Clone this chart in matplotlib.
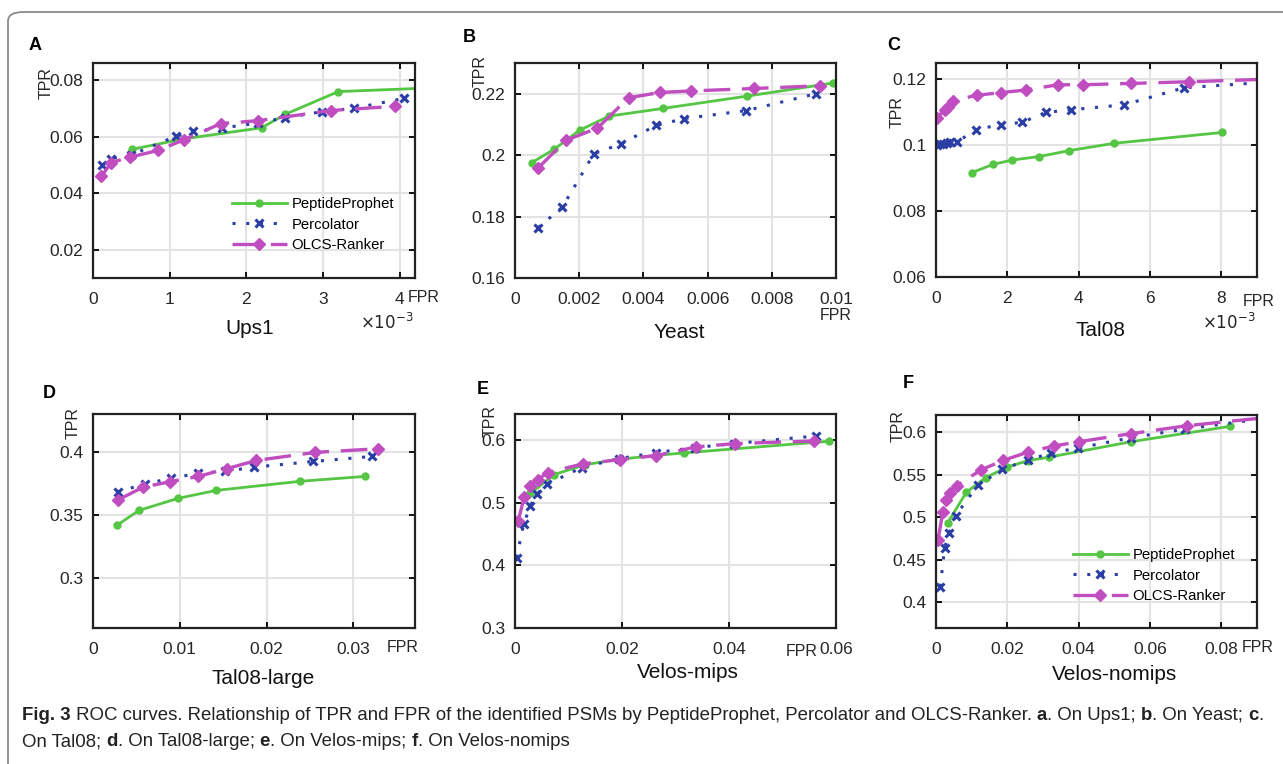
import numpy as np
import matplotlib
matplotlib.use("Agg")
import matplotlib.pyplot as plt
from matplotlib.ticker import FuncFormatter
from matplotlib.patches import FancyBboxPatch

plt.rcParams['font.family'] = ['Liberation Sans', 'DejaVu Sans']

# ---- data (FPR, TPR) ----
# A: Ups1
ups1_pp_x = [0.00051, 0.00119, 0.0022, 0.00251, 0.0032, 0.0048]
ups1_pp_y = [0.0555, 0.0592, 0.0631, 0.0679, 0.0759, 0.0776]
ups1_pc_x = [0.00012, 0.00024, 0.0005, 0.00108, 0.00131, 0.00168, 0.00215, 0.0025, 0.00299, 0.0034, 0.00406]
ups1_pc_y = [0.0499, 0.0522, 0.0535, 0.0601, 0.0618, 0.0630, 0.0648, 0.0666, 0.0688, 0.0700, 0.0735]
ups1_ol_x = [0.00011, 0.00024, 0.00048, 0.00085, 0.00119, 0.00167, 0.00215, 0.0031, 0.00394]
ups1_ol_y = [0.0460, 0.0508, 0.0527, 0.0551, 0.0589, 0.0646, 0.0656, 0.0692, 0.0707]

# B: Yeast
yeast_pp_x = [0.00053, 0.00123, 0.00201, 0.00293, 0.0046, 0.00722, 0.00992]
yeast_pp_y = [0.1976, 0.2020, 0.2081, 0.2127, 0.2152, 0.2192, 0.2235]
yeast_pc_x = [0.00072, 0.00147, 0.00246, 0.00329, 0.0044, 0.00527, 0.0072, 0.00938]
yeast_pc_y = [0.1764, 0.1830, 0.2005, 0.2036, 0.2097, 0.2119, 0.2145, 0.2200]
yeast_ol_x = [0.00073, 0.00158, 0.00257, 0.00354, 0.00452, 0.00548, 0.00745, 0.0095]
yeast_ol_y = [0.1959, 0.2048, 0.2088, 0.2187, 0.2204, 0.2209, 0.2217, 0.2226]

# C: Tal08
tal_pp_x = [0.0010, 0.0016, 0.00212, 0.0029, 0.00374, 0.00499, 0.00802]
tal_pp_y = [0.0917, 0.0942, 0.0955, 0.0966, 0.0984, 0.1006, 0.1039]
tal_pc_x = [0.00002, 0.0001, 0.0002, 0.0003, 0.0004, 0.0006, 0.00113, 0.00182, 0.00242, 0.00308, 0.00379, 0.00527, 0.00696, 0.0105]
tal_pc_y = [0.1002, 0.1003, 0.1005, 0.1008, 0.1010, 0.1011, 0.1048, 0.1063, 0.1070, 0.1100, 0.1108, 0.1123, 0.1175, 0.1200]
tal_ol_x = [0.00003, 0.00025, 0.00035, 0.00049, 0.00114, 0.00182, 0.00252, 0.00342, 0.00413, 0.00548, 0.00709, 0.0105]
tal_ol_y = [0.1084, 0.1107, 0.1117, 0.1136, 0.1152, 0.1160, 0.1168, 0.1184, 0.1184, 0.1188, 0.1193, 0.1205]

# D: Tal08-large
tl_pp_x = [0.00273, 0.0053, 0.0098, 0.0142, 0.0238, 0.0313]
tl_pp_y = [0.3415, 0.3534, 0.3630, 0.3693, 0.3765, 0.3804]
tl_pc_x = [0.00284, 0.0060, 0.0090, 0.0121, 0.0152, 0.0186, 0.0254, 0.0322]
tl_pc_y = [0.3680, 0.3746, 0.3788, 0.3830, 0.3844, 0.3878, 0.3923, 0.3963]
tl_ol_x = [0.00284, 0.0058, 0.0089, 0.0121, 0.0154, 0.0188, 0.0256, 0.0328]
tl_ol_y = [0.3616, 0.3720, 0.3762, 0.3804, 0.3865, 0.3931, 0.3995, 0.4024]

# E: Velos-mips
vm_pp_x = [0.00287, 0.00735, 0.0131, 0.0195, 0.0265, 0.0316, 0.0586]
vm_pp_y = [0.5150, 0.5453, 0.5610, 0.5697, 0.5760, 0.5798, 0.5984]
vm_pc_x = [0.0003, 0.0016, 0.00287, 0.0041, 0.0059, 0.0125, 0.0195, 0.0264, 0.0337, 0.0409, 0.0563]
vm_pc_y = [0.4125, 0.4656, 0.4954, 0.5140, 0.5294, 0.5565, 0.5708, 0.5804, 0.5883, 0.5947, 0.6069]
vm_ol_x = [0.0006, 0.00174, 0.00287, 0.0043, 0.0061, 0.0127, 0.0196, 0.0264, 0.0338, 0.0411, 0.0559]
vm_ol_y = [0.4715, 0.5098, 0.5268, 0.5373, 0.5485, 0.5623, 0.5692, 0.5756, 0.5894, 0.5947, 0.5989]

# F: Velos-nomips
vn_pp_x = [0.00328, 0.00853, 0.0140, 0.0200, 0.0259, 0.0316, 0.0548, 0.0826]
vn_pp_y = [0.4932, 0.5292, 0.5464, 0.5589, 0.5664, 0.5703, 0.5886, 0.6067]
vn_pc_x = [0.0012, 0.0024, 0.0037, 0.0055, 0.0117, 0.0186, 0.0257, 0.0323, 0.0399, 0.0548, 0.0700, 0.0950]
vn_pc_y = [0.4180, 0.4637, 0.4809, 0.5016, 0.5372, 0.5560, 0.5670, 0.5753, 0.5812, 0.5933, 0.6035, 0.6175]
vn_ol_x = [0.00056, 0.0019, 0.0027, 0.0038, 0.0059, 0.0126, 0.0189, 0.0259, 0.0331, 0.0401, 0.0547, 0.0704, 0.0950]
vn_ol_y = [0.4728, 0.5057, 0.5198, 0.5288, 0.5370, 0.5554, 0.5667, 0.5765, 0.5835, 0.5886, 0.5980, 0.6074, 0.6180]

methods = ['PeptideProphet', 'Percolator', 'OLCS-Ranker']
green = '#55c544'
blue = '#2a3ea6'
magenta = '#c04ec0'

W, H = 1283, 764
fig = plt.figure(figsize=(W / 100, H / 100), dpi=100)

# frame around figure
fig.patches.append(FancyBboxPatch((8 / W, -0.05), 1.1, 1 - 12 / H + 0.05, boxstyle='round,pad=0,rounding_size=0.012',
                                  transform=fig.transFigure, fill=False, edgecolor='#8a8a8a', lw=1.3))


def px_axes(l, r, t, b):
    return fig.add_axes([l / W, 1 - b / H, (r - l) / W, (b - t) / H])


def fx(x, y):
    return x / W, 1 - y / H


panels = [
    dict(box=(93, 415, 63, 278), xlim=(0, 0.0042), ylim=(0.01, 0.086),
         xt=[0, 0.001, 0.002, 0.003, 0.004], yt=[0.02, 0.04, 0.06, 0.08], scale=True,
         data=(ups1_pp_x, ups1_pp_y, ups1_pc_x, ups1_pc_y, ups1_ol_x, ups1_ol_y),
         name='Ups1', name_pos=(250, 328), letter='A', letter_pos=(35, 45),
         tpr_pos=(46, 83), fpr_pos=(408, 298), legend=(232, 197)),
    dict(box=(515, 836, 63, 278), xlim=(0, 0.01), ylim=(0.16, 0.23),
         xt=[0, 0.002, 0.004, 0.006, 0.008, 0.01], yt=[0.16, 0.18, 0.2, 0.22], scale=False,
         data=(yeast_pp_x, yeast_pp_y, yeast_pc_x, yeast_pc_y, yeast_ol_x, yeast_ol_y),
         name='Yeast', name_pos=(679, 333), letter='B', letter_pos=(469, 37),
         tpr_pos=(480, 71), fpr_pos=(820, 315), legend=None),
    dict(box=(936, 1257, 63, 277), xlim=(0, 0.009), ylim=(0.06, 0.125),
         xt=[0, 0.002, 0.004, 0.006, 0.008], yt=[0.06, 0.08, 0.1, 0.12], scale=True,
         data=(tal_pp_x, tal_pp_y, tal_pc_x, tal_pc_y, tal_ol_x, tal_ol_y),
         name='Tal08', name_pos=(1100, 330), letter='C', letter_pos=(894, 45),
         tpr_pos=(897, 112), fpr_pos=(1243, 302), legend=None),
    dict(box=(93, 415, 414, 628), xlim=(0, 0.0371), ylim=(0.26, 0.43),
         xt=[0, 0.01, 0.02, 0.03], yt=[0.3, 0.35, 0.4], scale=False,
         data=(tl_pp_x, tl_pp_y, tl_pc_x, tl_pc_y, tl_ol_x, tl_ol_y),
         name='Tal08-large', name_pos=(263, 678), letter='D', letter_pos=(49, 393),
         tpr_pos=(73, 423), fpr_pos=(387, 647), legend=None),
    dict(box=(515, 836, 414, 628), xlim=(0, 0.06), ylim=(0.3, 0.642),
         xt=[0, 0.02, 0.04, 0.06], yt=[0.3, 0.4, 0.5, 0.6], scale=False,
         data=(vm_pp_x, vm_pp_y, vm_pc_x, vm_pc_y, vm_ol_x, vm_ol_y),
         name='Velos-mips', name_pos=(688, 673), letter='E', letter_pos=(483, 389),
         tpr_pos=(490, 421), fpr_pos=(786, 651), legend=None),
    dict(box=(936, 1257, 415, 628), xlim=(0, 0.0901), ylim=(0.3695, 0.62),
         xt=[0, 0.02, 0.04, 0.06, 0.08], yt=[0.4, 0.45, 0.5, 0.55, 0.6], scale=False,
         data=(vn_pp_x, vn_pp_y, vn_pc_x, vn_pc_y, vn_ol_x, vn_ol_y),
         name='Velos-nomips', name_pos=(1115, 674), letter='F', letter_pos=(908, 383),
         tpr_pos=(898, 426), fpr_pos=(1242, 647), legend=(1073, 548)),
]

for p in panels:
    l, r, t, b = p['box']
    ax = px_axes(l, r, t, b)
    ppx, ppy, pcx, pcy, olx, oly = p['data']
    ax.plot(ppx, ppy, '-', color=green, lw=2, marker='o', ms=5, label=methods[0])
    ax.plot(pcx, pcy, color=blue, lw=2.2, dashes=(1, 3.5), marker='x', ms=5.5, mew=2.2, label=methods[1])
    ax.plot(olx, oly, color=magenta, lw=2.4, dashes=(8, 3.5), marker='D', ms=6, label=methods[2])
    ax.set_xlim(*p['xlim'])
    ax.set_ylim(*p['ylim'])
    ax.set_xticks(p['xt'])
    ax.set_yticks(p['yt'])
    if p['scale']:
        ax.xaxis.set_major_formatter(FuncFormatter(lambda v, pos: '%g' % round(v * 1000, 6)))
        fig.text(*fx(p['box'][1] - 2, 322), r'$\times10^{-3}$', ha='right', va='center', fontsize=12, color='#262626')
    else:
        ax.xaxis.set_major_formatter(FuncFormatter(lambda v, pos: '%g' % v))
    ax.yaxis.set_major_formatter(FuncFormatter(lambda v, pos: '%g' % v))
    ax.grid(True, color='#e3e3e3', lw=1.5)
    ax.set_axisbelow(True)
    ax.tick_params(direction='in', top=True, right=True, length=4, width=1.3,
                   labelsize=12.5, labelcolor='#262626')
    ax.tick_params(axis='x', pad=10)
    ax.tick_params(axis='y', pad=7)
    for s in ax.spines.values():
        s.set_linewidth(1.6)
        s.set_color('#222222')
    fig.text(*fx(*p['name_pos']), p['name'], ha='center', va='center', fontsize=15, color='#111111')
    fig.text(*fx(*p['letter_pos']), p['letter'], ha='center', va='center', fontsize=13, fontweight='bold')
    fig.text(*fx(*p['tpr_pos']), 'TPR', ha='center', va='center', rotation=90, fontsize=11.5, color='#262626')
    fig.text(*fx(*p['fpr_pos']), 'FPR', ha='left', va='center', fontsize=11.5, color='#262626')
    if p['legend'] is not None:
        lx, ly = p['legend']
        ax.legend(loc='upper left', bbox_to_anchor=fx(lx, ly), bbox_transform=fig.transFigure,
                  frameon=False, fontsize=10.7, handlelength=3.7, handletextpad=0.3,
                  labelspacing=0.45, borderpad=0, borderaxespad=0)

# caption with bold pieces
cap1 = [('Fig. 3', True), (' ROC curves. Relationship of TPR and FPR of the identified PSMs by PeptideProphet, Percolator and OLCS-Ranker. ', False),
        ('a', True), ('. On Ups1; ', False), ('b', True), ('. On Yeast; ', False), ('c', True), ('.', False)]
cap2 = [('On Tal08; ', False), ('d', True), ('. On Tal08-large; ', False), ('e', True), ('. On Velos-mips; ', False),
        ('f', True), ('. On Velos-nomips', False)]
for line, ypx in [(cap1, 715), (cap2, 742)]:
    prev = None
    for txt, bold in line:
        kw = dict(fontsize=13.4, fontweight='bold' if bold else 'normal', color='#222222', va='center')
        if prev is None:
            prev = fig.text(*fx(22, ypx), txt, ha='left', **kw)
        else:
            prev = plt.annotate(txt, xy=(1, 0.5), xycoords=prev, ha='left', annotation_clip=False, **kw)

fig.savefig('out.png', dpi=100)
